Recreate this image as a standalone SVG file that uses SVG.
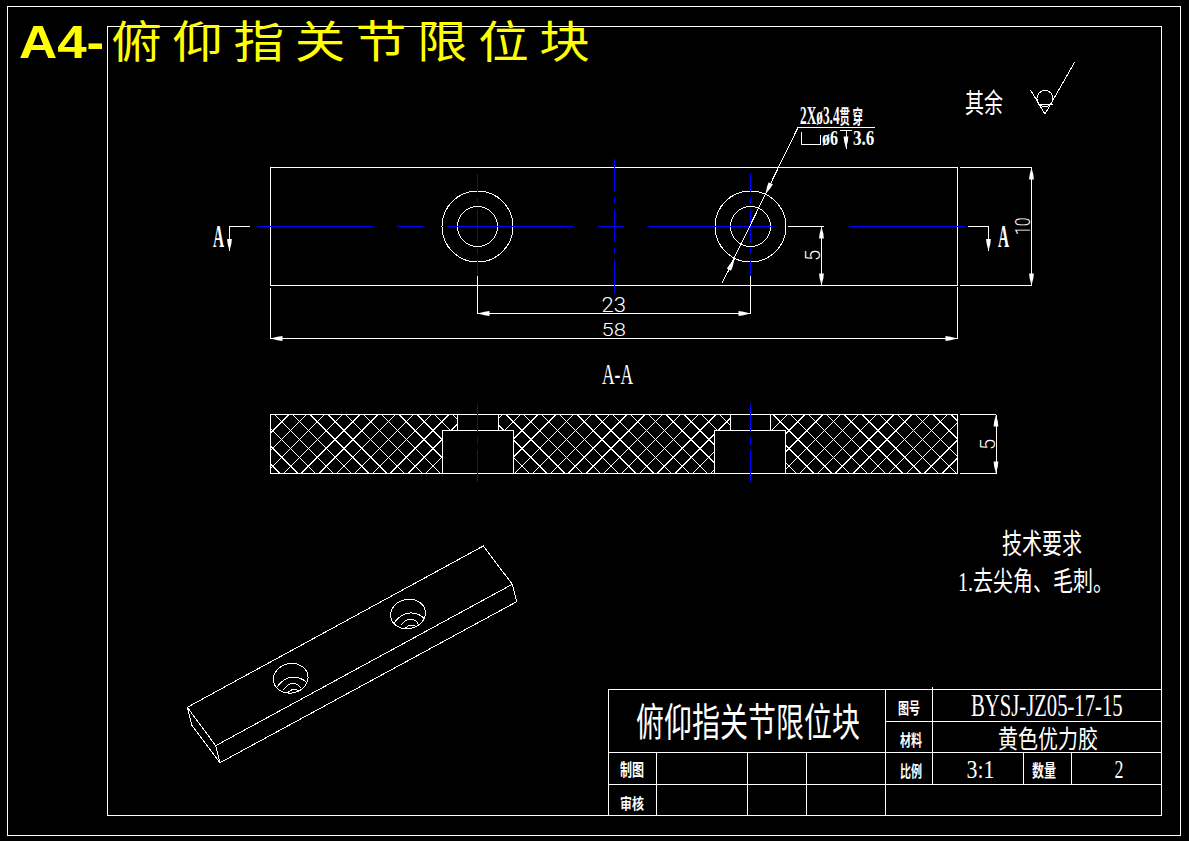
<svg xmlns="http://www.w3.org/2000/svg" xmlns:xlink="http://www.w3.org/1999/xlink" width="1189" height="841" viewBox="0 0 1189 841">
<style>
.l{fill:none;stroke:#fff;stroke-width:1;shape-rendering:crispEdges}
.t{fill:none;stroke:#fff;stroke-width:1;shape-rendering:crispEdges}
.c{fill:none;stroke:#0000ff;stroke-width:1;shape-rendering:crispEdges}
.d{fill:none;stroke:#fff;stroke-width:1;shape-rendering:crispEdges;marker-start:url(#arr);marker-end:url(#arr)}
.e{fill:none;stroke:#fff;stroke-width:1;shape-rendering:crispEdges;marker-end:url(#arr)}
text{fill:#fff;font-family:"Liberation Serif","Noto Sans CJK SC",serif}
.n{font-family:Roboto,"Liberation Sans",sans-serif;font-weight:300}
.b{font-weight:bold}
.h{fill:#ffff00;font-family:"Liberation Sans","Noto Sans CJK SC",sans-serif}
</style>
<defs>
<marker id="arr" markerUnits="userSpaceOnUse" markerWidth="14" markerHeight="8" refX="13" refY="4" orient="auto-start-reverse">
<path d="M13 4L6 2.2L1 1.6V6.4L6 5.8Z" fill="#fff"/>
</marker>
<clipPath id="solid">
<path d="M270.5 414.5H457.5V430.5H442.5V473.5H270.5ZM498.5 414.5H730.5V430.5H714.5V473.5H513.5V430.5H498.5ZM770.5 414.5H957.5V473.5H785.5V430.5H770.5Z"/>
</clipPath>
<path id="h1" class="t" d="M203.3 414.5l59 59m-41.2-59l59 59m-41.2-59l59 59m-41.2-59l59 59m-41.2-59l59 59m-41.2-59l59 59m-41.2-59l59 59m-41.2-59l59 59m-41.2-59l59 59m-41.2-59l59 59m-41.2-59l59 59"/>
<path id="h2" class="t" d="M212.1 473.5l59-59m-41.2 59l59-59m-41.2 59l59-59m-41.2 59l59-59m-41.2 59l59-59m-41.2 59l59-59m-41.2 59l59-59m-41.2 59l59-59m-41.2 59l59-59m-41.2 59l59-59m-41.2 59l59-59"/>
<g id="hole">
<ellipse cx="0" cy="0" rx="17.5" ry="14.7" class="t" transform="rotate(-12)"/>
<path d="M-14 9Q-6 -2 4 -1Q13 0 16.5 5M-7.5 11.5Q-2 5 2 5Q8 5 10 10M-2.5 14Q1 11 3 11Q6 11 8.5 12.5" class="t"/>
</g>
</defs>
<rect width="1189" height="841" fill="#000"/>

<g id="frame">
<rect x="7.5" y="6.5" width="1173" height="828.5" class="l"/>
<rect x="107.5" y="26.5" width="1054" height="788.5" class="t"/>
</g>

<g id="heading">
<text class="h" transform="translate(19,58) scale(1.15,1)" font-size="46"><tspan font-weight="bold">A4-</tspan><tspan font-size="44" letter-spacing="9.2" dx="6">俯仰指关节限位块</tspan></text>
</g>

<g id="top-view">
<rect x="270.5" y="167.5" width="687" height="118" class="l"/>
<circle cx="477.500" cy="226.500" r="35.500" class="t"/>
<circle cx="477.500" cy="226.500" r="20" class="t"/>
<circle cx="750.500" cy="226.500" r="35.500" class="t"/>
<circle cx="750.500" cy="226.500" r="20" class="t"/>
</g>

<g id="section-view">
<g clip-path="url(#solid)">
<use href="#h1" xlink:href="#h1"/>
<use href="#h1" xlink:href="#h1" x="195.8"/>
<use href="#h1" xlink:href="#h1" x="391.6"/>
<use href="#h1" xlink:href="#h1" x="587.4"/>
<use href="#h2" xlink:href="#h2"/>
<use href="#h2" xlink:href="#h2" x="195.8"/>
<use href="#h2" xlink:href="#h2" x="391.6"/>
<use href="#h2" xlink:href="#h2" x="587.4"/>
</g>
<path d="M270.5 414.5H957.5V473.5H270.5ZM442.5 430.5H513.5V473.5H442.5ZM714.5 430.5H785.5V473.5H714.5ZM457.5 414.5V430.5M498.5 414.5V430.5M730.5 414.5V430.5M770.5 414.5V430.5" class="l"/>
</g>

<g id="isometric-view">
<path d="M483.3 546L187.3 707.3L215.7 745.7L512.3 584.3ZM512.3 584.3L516.7 601.7L220 762.7L215.7 745.7M187.3 707.3L191.7 725L220 762.7" class="t"/>
<use href="#hole" xlink:href="#hole" x="290.7" y="678.3"/>
<use href="#hole" xlink:href="#hole" x="408" y="614"/>
</g>

<g id="connectors">
<g id="center-lines">
<path d="M257 226.5H373M397 226.5H423M447 226.5H574M598 226.5H623.5M648 226.5H773M849 226.5H965" class="c" style="stroke-width:1.3"/>
<path d="M614.5 159V192M614.5 198V203M614.5 210V242M614.5 248V254M614.5 260V294" class="c"/>
<path d="M477.5 174V192M477.5 198V203M477.5 210V242M477.5 248V254M477.5 260V276" class="c"/>
<path d="M750.5 174V192M750.5 198V203M750.5 210V242M750.5 248V254M750.5 260V276" class="c"/>
<path d="M477.5 403V432M477.5 437V445M477.5 450V482" class="c"/>
<path d="M750.5 403V432M750.5 437V445M750.5 450V482" class="c"/>
</g>
<g id="dimensions">
<path d="M477.5 276V313.5M750.5 276V313.5M270.5 288V338.5M957.5 287V338.5" class="l"/>
<path d="M477.5 313.5H750.5" class="d"/>
<path d="M270.5 338.5H957.5" class="d"/>
<path d="M788 226.5H824" class="l"/>
<path d="M821.5 226.5V285.5" class="d"/>
<path d="M960 167.5H1031.5M960 285.5H1031.5" class="l"/>
<path d="M1031.5 167.5V285.5" class="d"/>
<path d="M960 414.5H996M960 473.5H996" class="l"/>
<path d="M996 414.5V473.5" class="d"/>
</g>
<g id="section-marks">
<path d="M250 226.5H229.5V251" class="e"/>
<path d="M968 226.5H988.5V251" class="e"/>
</g>
<g id="leader">
<path d="M722 283L798 127.500H875" class="l"/>
<path d="M722 283L734.5 259" class="e"/>
<path d="M798 127.500L765.5 194" class="e"/>
<path d="M801.500 132V144.500H820V135M840 130.500H852" class="t"/>
<path d="M846 130.500V148.500" class="e"/>
</g>
<g id="roughness">
<path d="M1030.500 90L1045 114L1074.500 62.500M1037.500 104H1052.500" class="t"/>
<circle cx="1045" cy="98.500" r="8" class="t"/>
</g>
</g>

<g id="labels">
<text transform="translate(213,247) scale(.85,1.77)" font-size="18" class="b">A</text>
<text transform="translate(998,247) scale(.85,1.77)" font-size="18" class="b">A</text>
<text transform="translate(602,384) scale(.97,1.68)" font-size="18">A-A</text>
<text class="n" transform="translate(601.500,312) scale(1.1,1)" font-size="20">23</text>
<text class="n" transform="translate(601.500,336) scale(1.1,.95)" font-size="20">58</text>
<text class="n" transform="translate(820,261) rotate(-90) scale(.95,1)" font-size="21">5</text>
<text class="n" transform="translate(1030,235) rotate(-90) scale(.75,1)" font-size="21">10</text>
<text class="n" transform="translate(995,450) rotate(-90) scale(.95,1)" font-size="21">5</text>
<text transform="translate(800,124) scale(.74,1.39)" font-size="18" class="b">2Xø3.4<tspan font-size="14" letter-spacing="3.5">贯穿</tspan></text>
<text transform="translate(822,145) scale(.8,1)" font-size="20" class="b">ø6</text>
<text transform="translate(853,145) scale(.85,1)" font-size="20" class="b">3.6</text>
<text transform="translate(965,113) scale(1,1.45)" font-size="19">其余</text>
<text transform="translate(1002,554) scale(1,1.4)" font-size="20">技术要求</text>
<text transform="translate(958,591) scale(1,1.35)" font-size="20">1.去尖角、毛刺。</text>
</g>

<g id="title-block">
<path d="M608.500 689.500H1161.500V815H608.500ZM885.500 721.500H1161.500M608.500 752.500H1161.500M608.500 784.500H1161.500M656.500 752.500V815M747.500 752.500V815M806.500 752.500V815M885.500 689.500V815M932.500 687V784.500M1023.500 752.500V784.500M1071 752.500V784.500" class="t"/>
<text transform="translate(636,736) scale(1,1.4)" font-size="28">俯仰指关节限位块</text>
<text transform="translate(898,714) scale(1,1.4)" font-size="11" class="b">图号</text>
<text transform="translate(900,746) scale(1,1.4)" font-size="11" class="b">材料</text>
<text transform="translate(900,777) scale(1,1.4)" font-size="11" class="b">比例</text>
<text transform="translate(620,776) scale(1,1.4)" font-size="12" class="b">制图</text>
<text transform="translate(620,809) scale(1,1.2)" font-size="12" class="b">审核</text>
<text transform="translate(1032,777) scale(1,1.4)" font-size="12" class="b">数量</text>
<text transform="translate(971,716) scale(.985,1.48)" font-size="21">BYSJ-JZ05-17-15</text>
<text transform="translate(998,748) scale(1,1.25)" font-size="20">黄色优力胶</text>
<text transform="translate(966.500,778) scale(.875,1)" font-size="25">3:1</text>
<text transform="translate(1114.500,778) scale(.72,1)" font-size="25">2</text>
</g>
</svg>
